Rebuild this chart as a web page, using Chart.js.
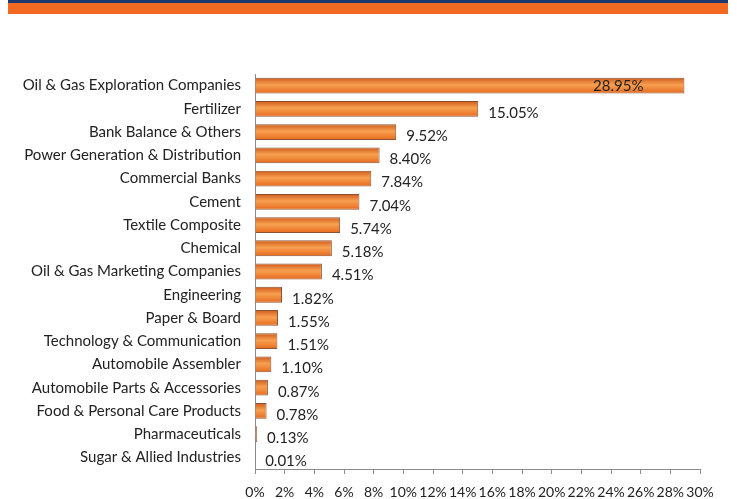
<!DOCTYPE html>
<html>
<head>
<meta charset="utf-8">
<script src="https://cdn.jsdelivr.net/npm/chart.js@4/dist/chart.umd.min.js"></script>
<style>
  body { margin: 0; background: #fff; }
  #wrap { position: relative; width: 737px; height: 499px; }
  #band { position: absolute; left: 8px; top: 0; width: 720px; height: 14px;
          background: #f26a22; border-top: 3px solid #1c3a6e; box-sizing: border-box; }
  #chart { position: absolute; left: 0; top: 0; }
</style>
</head>
<body>
<div id="wrap">
  <div id="band"></div>
  <canvas id="chart" width="737" height="499"></canvas>
</div>
<script>
const categories = [
  "Oil & Gas Exploration Companies",
  "Fertilizer",
  "Bank Balance & Others",
  "Power Generation & Distribution",
  "Commercial Banks",
  "Cement",
  "Textile Composite",
  "Chemical",
  "Oil & Gas Marketing Companies",
  "Engineering",
  "Paper & Board",
  "Technology & Communication",
  "Automobile Assembler",
  "Automobile Parts & Accessories",
  "Food & Personal Care Products",
  "Pharmaceuticals",
  "Sugar & Allied Industries"
];
const shares = [28.95, 15.05, 9.52, 8.40, 7.84, 7.04, 5.74, 5.18, 4.51, 1.82, 1.55, 1.51, 1.10, 0.87, 0.78, 0.13, 0.01];
const xTicks = [0, 2, 4, 6, 8, 10, 12, 14, 16, 18, 20, 22, 24, 26, 28, 30];

const FONT = "Lato, 'Open Sans', sans-serif";

// orange bar with a lighter band through the middle
function barFill(ctx) {
  const chart = ctx.chart;
  const y = chart.scales.y;
  if (!chart.chartArea || !y) return "#ee7a2a";
  const c = y.getPixelForValue(ctx.dataIndex);
  const g = chart.ctx.createLinearGradient(0, c - 8, 0, c + 8);
  g.addColorStop(0, "#cf5a1a");
  g.addColorStop(0.45, "#f7a050");
  g.addColorStop(1, "#e6691d");
  return g;
}

const valueLabels = {
  id: "valueLabels",
  afterDatasetsDraw(chart) {
    const ctx = chart.ctx;
    const meta = chart.getDatasetMeta(0);
    ctx.save();
    ctx.font = "15px " + FONT;
    ctx.fillStyle = "#222";
    ctx.textBaseline = "middle";
    meta.data.forEach((bar, i) => {
      const v = shares[i];
      const txt = v.toFixed(2) + "%";
      if (v > 20) {
        ctx.textAlign = "right";
        ctx.fillText(txt, bar.x - 41, bar.y + 1);
      } else {
        ctx.textAlign = "left";
        ctx.fillText(txt, bar.x + 10, bar.y + 4);
      }
    });
    ctx.restore();
  }
};

new Chart(document.getElementById("chart"), {
  type: "bar",
  data: {
    labels: categories,
    datasets: [{
      data: shares,
      backgroundColor: barFill,
      borderColor: "#8a5232",
      borderWidth: 1,
      borderSkipped: "left",
      barPercentage: 0.68,
      categoryPercentage: 1
    }]
  },
  options: {
    indexAxis: "y",
    responsive: false,
    animation: false,
    layout: { padding: { top: 74, right: 37, left: 0, bottom: 0 } },
    plugins: { legend: { display: false }, tooltip: { enabled: false } },
    scales: {
      x: {
        min: 0,
        max: 30,
        afterBuildTicks: (s) => { s.ticks = xTicks.map(v => ({ value: v })); },
        afterFit: (s) => { s.height = 30; },
        ticks: {
          callback: (v) => v + "%",
          font: { family: FONT, size: 14 },
          color: "#222",
          padding: 10,
          autoSkip: false,
          maxRotation: 0
        },
        grid: { drawOnChartArea: false, drawTicks: true, tickLength: 5, color: "#8c8c8c" },
        border: { color: "#8c8c8c", width: 1 }
      },
      y: {
        afterFit: (s) => { s.width = 255; },
        ticks: {
          font: { family: FONT, size: 15 },
          color: "#222",
          padding: 6,
          autoSkip: false
        },
        grid: { display: false },
        border: { display: true, color: "#8c8c8c", width: 1 }
      }
    }
  },
  plugins: [valueLabels]
});
</script>
</body>
</html>
